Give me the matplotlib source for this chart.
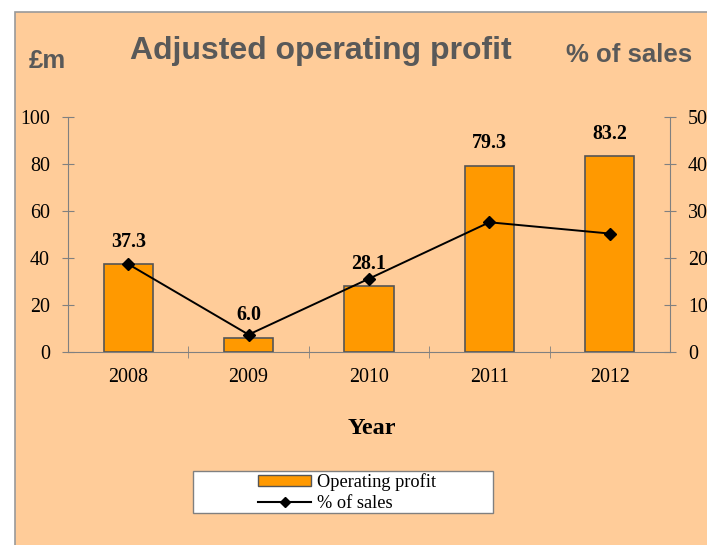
import matplotlib.pyplot as plt
from matplotlib.patches import Rectangle
from matplotlib.lines import Line2D
from matplotlib.patches import Patch

years = ['2008', '2009', '2010', '2011', '2012']
profit = [37.3, 6.0, 28.1, 79.3, 83.2]
pct_sales = [18.7, 3.7, 15.6, 27.6, 25.2]

W, H = 707, 545
fig = plt.figure(figsize=(W / 100, H / 100), dpi=100)
fig.patch.set_facecolor('white')

# orange panel behind everything (runs off the right/bottom edge)
bg = Rectangle((15 / W, -0.1), 1.2, (H - 12) / H + 0.1, transform=fig.transFigure,
               facecolor='#FFCC99', edgecolor='#999999', linewidth=1.2, zorder=-10)
fig.patches.append(bg)

ax = fig.add_axes([68 / W, 193 / H, 602 / W, 235 / H])
ax.set_facecolor('none')
x = list(range(len(years)))
ax.bar(x, profit, width=0.41, color='#FF9900', edgecolor='#555555', linewidth=1.2, zorder=2)
ax.set_xlim(-0.5, 4.5)
ax.set_ylim(0, 100)
ax.set_yticks(range(0, 101, 20))
ax.set_xticks(x)
ax.set_xticklabels(years)
ax.set_xticks([0.5, 1.5, 2.5, 3.5], minor=True)

serif = 'Liberation Serif'
for s in ['top', 'right']:
    ax.spines[s].set_visible(False)
for s in ['left', 'bottom']:
    ax.spines[s].set_color('#808080')
ax.tick_params(axis='y', direction='inout', length=8, color='#808080', labelsize=14.4, pad=9)
ax.tick_params(axis='x', which='major', length=0, labelsize=14.4, pad=11.5)
ax.tick_params(axis='x', which='minor', direction='inout', length=8, color='#808080')
for lab in ax.get_xticklabels() + ax.get_yticklabels():
    lab.set_fontfamily(serif)

for xi, v in zip(x, profit):
    ax.text(xi, v + 5.3, f'{v:.1f}', ha='center', va='bottom', fontsize=14.4,
            fontweight='bold', fontfamily=serif)

ax2 = ax.twinx()
ax2.set_facecolor('none')
ax2.plot(x, pct_sales, color='black', linewidth=1.4, marker='D', markersize=6.5, zorder=3)
ax2.set_ylim(0, 50)
ax2.set_yticks(range(0, 51, 10))
for s in ['top', 'left', 'bottom']:
    ax2.spines[s].set_visible(False)
ax2.spines['right'].set_color('#808080')
ax2.tick_params(axis='y', direction='inout', length=8, color='#808080', labelsize=14.4, pad=9)
for lab in ax2.get_yticklabels():
    lab.set_fontfamily(serif)

fig.text(372 / W, 1 - 428 / H, 'Year', ha='center', va='center', fontsize=17.5,
         fontweight='bold', fontfamily=serif)

sans = 'Liberation Sans'
fig.text(321 / W, 1 - 51 / H, 'Adjusted operating profit', ha='center', va='center',
         fontsize=23, fontweight='bold', color='#595959', fontfamily=sans)
fig.text(47 / W, 1 - 61 / H, '£m', ha='center', va='center',
         fontsize=18.5, fontweight='bold', color='#595959', fontfamily=sans)
fig.text(629 / W, 1 - 55 / H, '% of sales', ha='center', va='center',
         fontsize=18.5, fontweight='bold', color='#595959', fontfamily=sans)

# legend box drawn separately so it can be wider than its entries
box = Rectangle((193 / W, 1 - 513 / H), 300 / W, 42 / H, transform=fig.transFigure,
                facecolor='white', edgecolor='#808080', linewidth=1.0, zorder=1)
fig.patches.append(box)
handles = [Patch(facecolor='#FF9900', edgecolor='#555555', label='Operating profit'),
           Line2D([], [], color='black', marker='D', markersize=5.5, label='% of sales')]
leg = fig.legend(handles=handles, loc='center', bbox_to_anchor=(347 / W, 1 - 493 / H),
                 prop={'family': serif, 'size': 13.2}, frameon=False,
                 handlelength=2.9, handleheight=0.55,
                 borderpad=0, labelspacing=0.22, handletextpad=0.3,
                 borderaxespad=0)
leg.set_zorder(2)

fig.savefig('out.png', dpi=100)
